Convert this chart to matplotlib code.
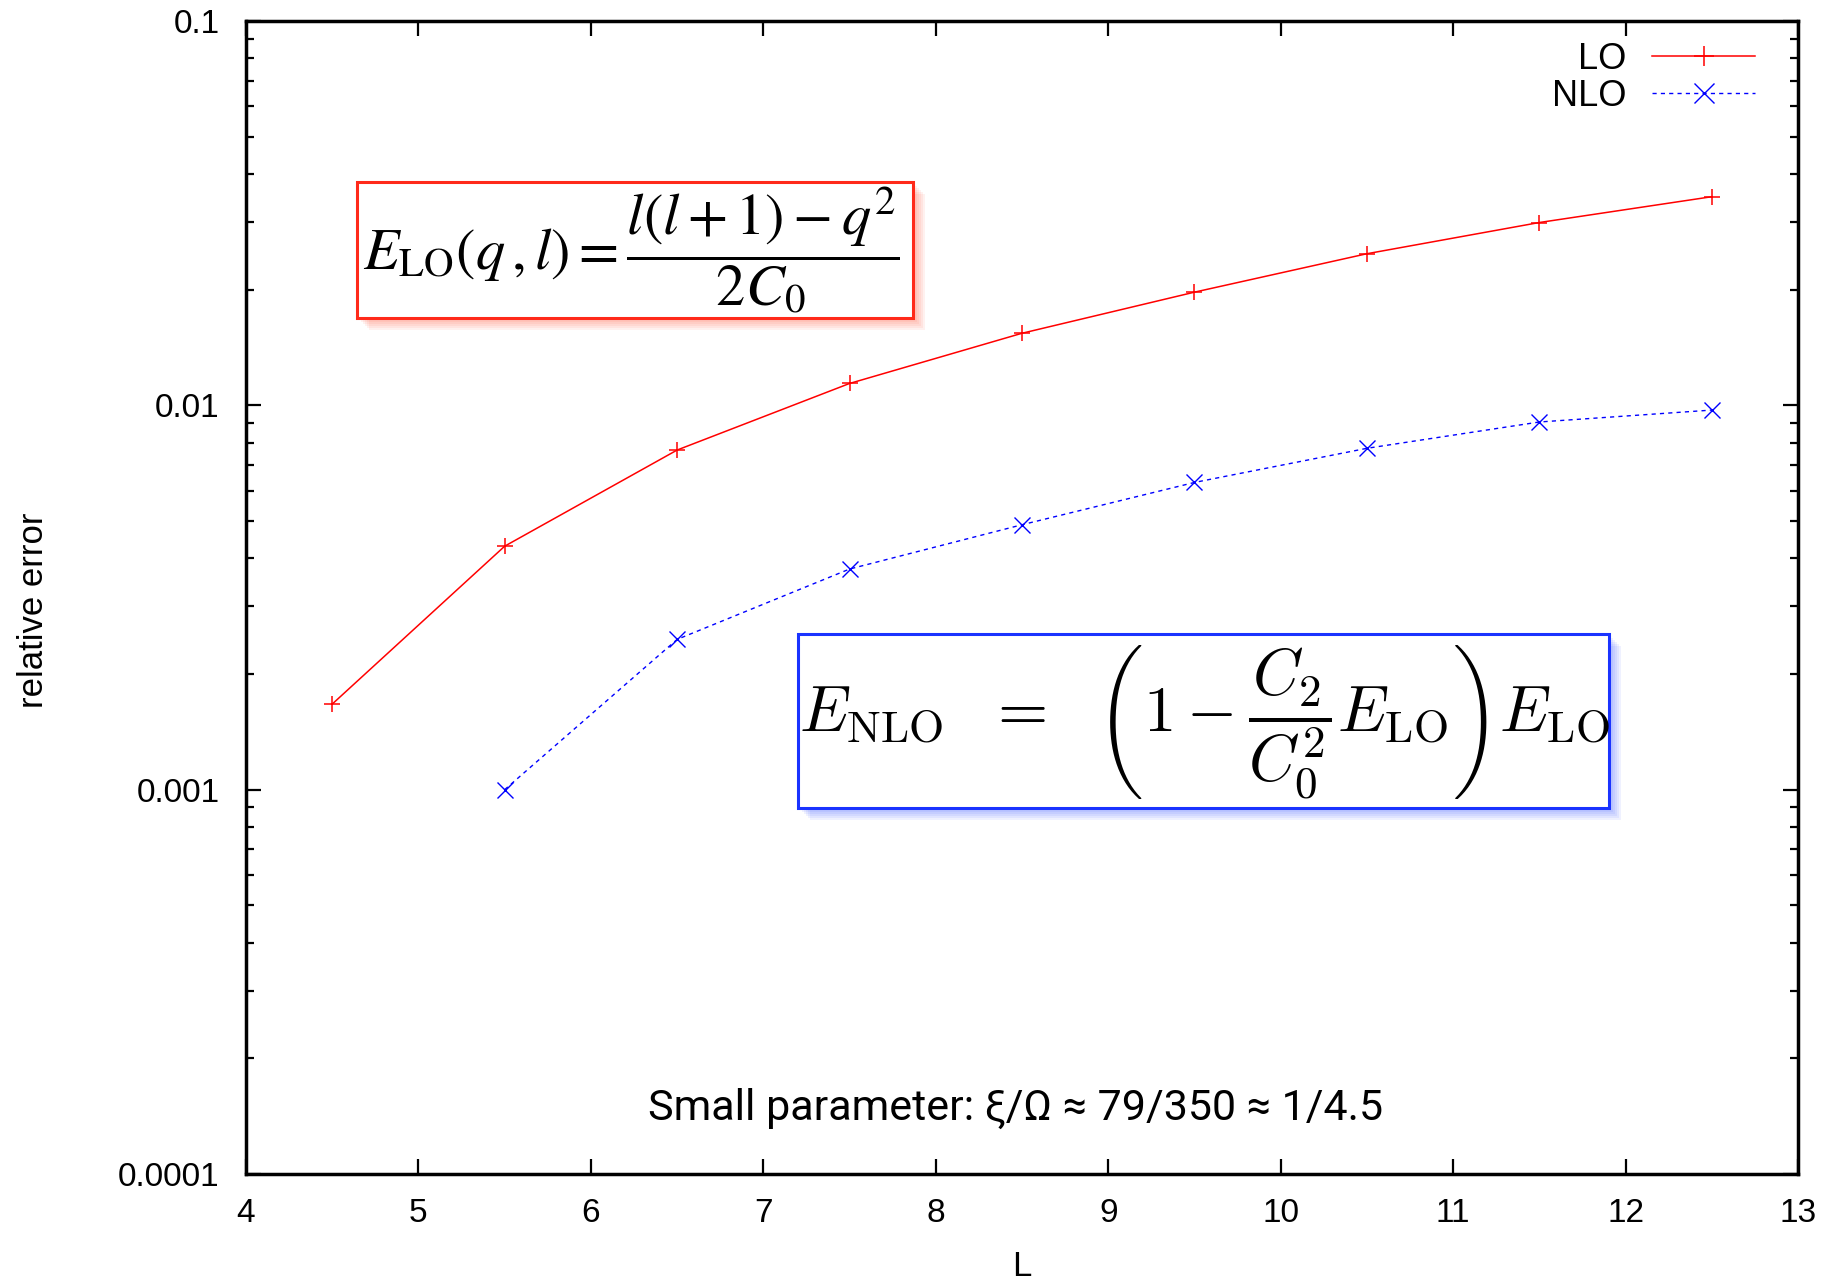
import matplotlib
matplotlib.use("Agg")
import matplotlib.pyplot as plt
from matplotlib.patches import Rectangle

# data
L_lo = [4.5, 5.5, 6.5, 7.5, 8.5, 9.5, 10.5, 11.5, 12.5]
err_lo = [0.00167, 0.0043, 0.00765, 0.0114, 0.0154, 0.0197, 0.0248, 0.0299, 0.0349]
L_nlo = [5.5, 6.5, 7.5, 8.5, 9.5, 10.5, 11.5, 12.5]
err_nlo = [0.001, 0.00246, 0.00375, 0.00489, 0.0063, 0.00773, 0.00905, 0.00972]
x_ticks = [4, 5, 6, 7, 8, 9, 10, 11, 12, 13]
y_ticks = [0.0001, 0.001, 0.01, 0.1]
y_ticklabels = ["0.0001", "0.001", "0.01", "0.1"]

W, H = 1843, 1281
plt.rcParams['font.family'] = ['Liberation Sans', 'DejaVu Sans']

fig = plt.figure(figsize=(W / 100, H / 100), dpi=100)
ax = fig.add_axes([246 / W, (H - 1174) / H, (1798 - 246) / W, (1174 - 21) / H])

ax.plot(L_lo, err_lo, color='#ff0000', lw=1.1, marker='+', ms=12, mew=1.1, label='LO')
ax.plot(L_nlo, err_nlo, color='#0000ff', lw=1.0, ls=(0, (3, 3)), marker='x', ms=11, mew=1.0, label='NLO')

ax.set_yscale('log')
ax.set_xlim(4, 13)
ax.set_ylim(0.0001, 0.1)
ax.set_xticks(x_ticks)
ax.set_xticklabels([str(t) for t in x_ticks])
ax.set_yticks(y_ticks)
ax.set_yticklabels(y_ticklabels)

for s in ax.spines.values():
    s.set_linewidth(2.5)
ax.tick_params(which='major', direction='in', length=11, width=1.6, top=True, right=True, labelsize=24)
ax.tick_params(axis='y', which='major', pad=19)
ax.tick_params(axis='x', which='major', pad=17)
ax.tick_params(which='minor', direction='in', length=5.5, width=1.6, top=False, right=True)
ax.xaxis.set_minor_locator(matplotlib.ticker.NullLocator())

ax.set_xlabel('L', fontsize=25)
ax.xaxis.set_label_coords(0.5, -0.066)
ax.set_ylabel('relative error', fontsize=25)
ax.yaxis.set_label_coords(-0.126, 0.489)

leg = ax.legend(loc='upper right', bbox_to_anchor=(0.9723, 0.982), frameon=False, markerfirst=False,
                fontsize=26, handlelength=2.85, handletextpad=0.7, labelspacing=0.05,
                borderpad=0, borderaxespad=0, numpoints=1)
for h in leg.legend_handles:
    h.set_markersize(14)

# annotation at the bottom
ax.text(0.496, 0.0468, 'Small parameter: ξ/Ω ≈ 79/350 ≈ 1/4.5', transform=ax.transAxes,
        ha='center', va='baseline', fontsize=31, family=['Roboto', 'DejaVu Sans'])


def boxed(x0, y0, x1, y1, edge, shadow):
    # soft shadow under the box
    for k in range(1, 7):
        fig.patches.append(Rectangle((x0 / W + 2 * k / W, (H - y1 - 2 * k) / H), (x1 - x0) / W, (y1 - y0) / H,
                                     transform=fig.transFigure, facecolor=shadow, edgecolor='none',
                                     alpha=0.07, zorder=1))
    fig.patches.append(Rectangle((x0 / W, (H - y1) / H), (x1 - x0) / W, (y1 - y0) / H,
                                 transform=fig.transFigure, facecolor='white', edgecolor=edge,
                                 lw=2.2, zorder=2))


boxed(357, 182, 913, 318, '#ff2a1a', '#ff4020')
boxed(798, 634, 1609, 808, '#1a33ff', '#2040ff')

fig.text(631 / W, 1 - 250 / H, r'$E_{\mathrm{LO}}(q\,,l) = \dfrac{l(l+1)-q^2}{2C_0}$',
         ha='center', va='center', fontsize=42, math_fontfamily='stix', zorder=3)
fig.text(1204 / W, 1 - 722 / H,
         r'$E_{\mathrm{NLO}}\ \ =\ \ \left(1-\dfrac{C_2}{C_0^2}E_{\mathrm{LO}}\right)E_{\mathrm{LO}}$',
         ha='center', va='center', fontsize=46.5, math_fontfamily='cm', zorder=3)

fig.savefig('out.png', dpi=100, facecolor='white')
